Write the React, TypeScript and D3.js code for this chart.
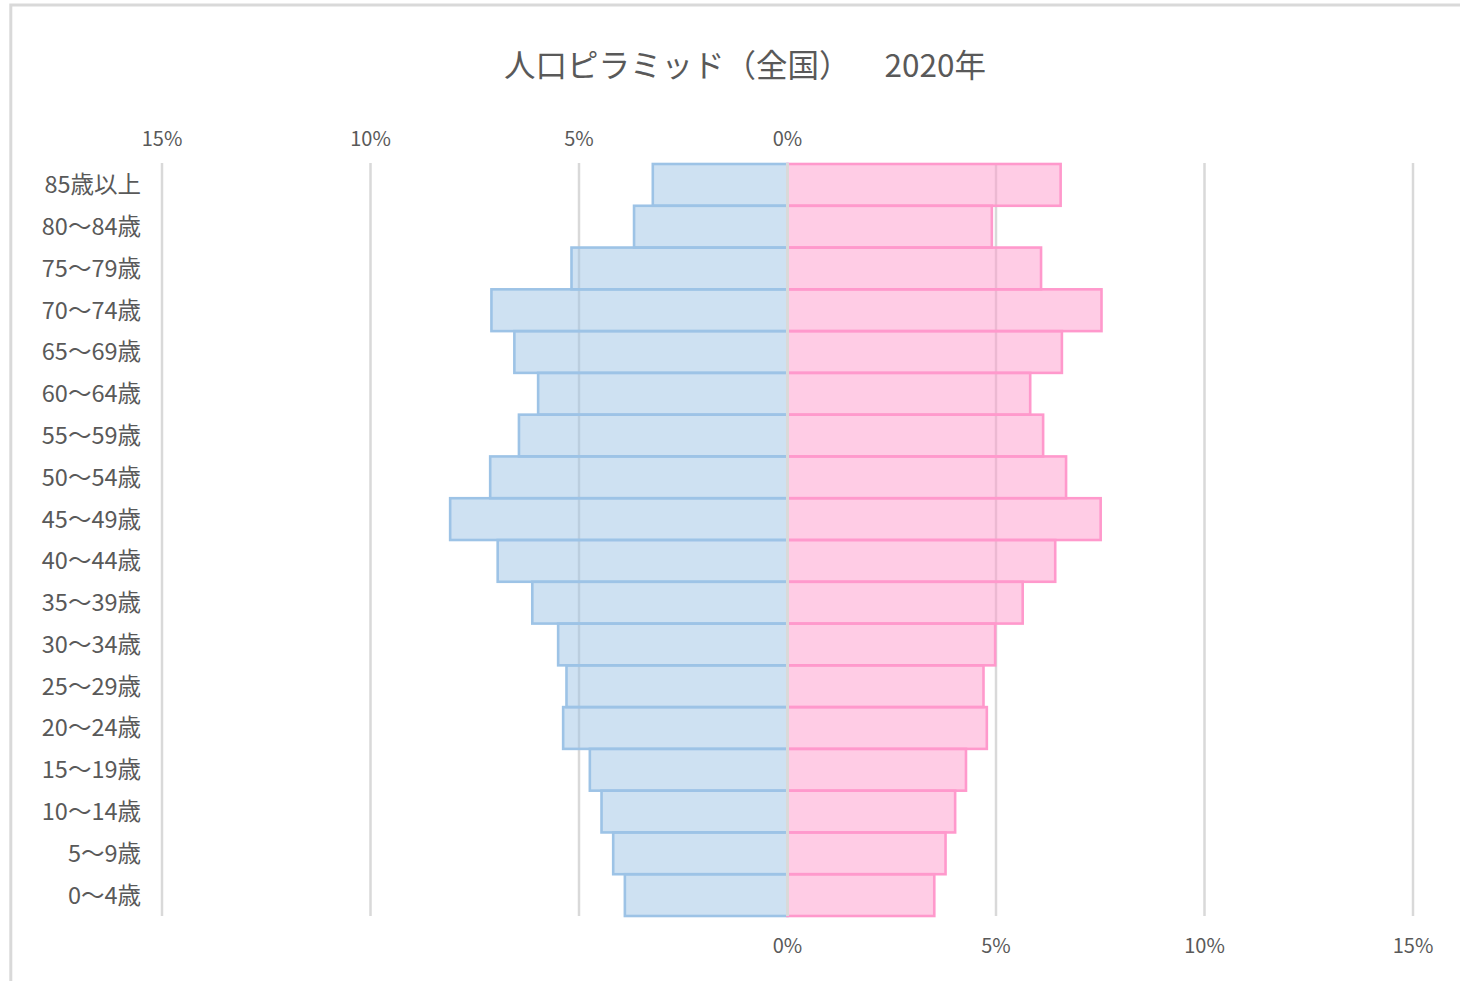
import React from 'react';
import * as d3 from 'd3';

// age groups, top to bottom as drawn
const ageGroups = [
  '85歳以上', '80～84歳', '75～79歳', '70～74歳', '65～69歳', '60～64歳',
  '55～59歳', '50～54歳', '45～49歳', '40～44歳', '35～39歳', '30～34歳',
  '25～29歳', '20～24歳', '15～19歳', '10～14歳', '5～9歳', '0～4歳',
];

// share of population (%) by sex
const maleShare = [
  3.23, 3.68, 5.18, 7.10, 6.55, 5.98, 6.44, 7.13, 8.09,
  6.95, 6.12, 5.50, 5.30, 5.38, 4.74, 4.46, 4.18, 3.90,
];
const femaleShare = [
  6.55, 4.90, 6.08, 7.53, 6.58, 5.82, 6.13, 6.68, 7.51,
  6.42, 5.64, 4.98, 4.70, 4.78, 4.28, 4.02, 3.79, 3.52,
];

const gridTicks = [0, 5, 10, 15];

const TITLE_MAIN = '人口ピラミッド（全国）';
const TITLE_YEAR = '2020年';

const W = 1460;
const H = 981;
const FONT = "'Noto Sans CJK JP', 'Noto Sans', sans-serif";
const TEXT = '#595959';
const GRID = '#d9d9d9';
const MALE = '#9dc3e6';
const FEMALE = '#ff99cc';

export default function App() {
  const plotTop = 164;
  const plotBottom = 916;

  // negative = male side, positive = female side
  const x = d3.scaleLinear().domain([-15, 15]).range([162, 1413]);
  const y = d3.scaleBand<string>().domain(ageGroups).range([plotTop, plotBottom]).padding(0);
  const bh = y.bandwidth();

  return (
    <svg
      width={W}
      height={H}
      style={{ position: 'absolute', left: 0, top: 0, background: '#fff' }}
      fontFamily={FONT}
    >
      {/* outer frame */}
      <rect x={10.8} y={5} width={W + 20} height={H + 20} fill="none" stroke={GRID} strokeWidth={3} />

      {/* title */}
      <text x={504} y={77} fontSize={31.5} fill={TEXT}>{TITLE_MAIN}</text>
      <text x={986} y={77} fontSize={31.5} fill={TEXT} textAnchor="end">{TITLE_YEAR}</text>

      {/* gridlines (both halves) */}
      {gridTicks.filter((t) => t > 0).map((t) => (
        <g key={t}>
          <line x1={x(-t)} x2={x(-t)} y1={plotTop - 1} y2={plotBottom} stroke={GRID} strokeWidth={2.5} />
          <line x1={x(t)} x2={x(t)} y1={plotTop - 1} y2={plotBottom} stroke={GRID} strokeWidth={2.5} />
        </g>
      ))}

      {/* male bars */}
      {ageGroups.map((a, i) => (
        <rect
          key={'m' + a}
          x={x(-maleShare[i])}
          y={y(a)}
          width={x(0) - x(-maleShare[i])}
          height={bh}
          fill={MALE}
          fillOpacity={0.5}
          stroke={MALE}
          strokeWidth={2.6}
        />
      ))}

      {/* female bars */}
      {ageGroups.map((a, i) => (
        <rect
          key={'f' + a}
          x={x(0)}
          y={y(a)}
          width={x(femaleShare[i]) - x(0)}
          height={bh}
          fill={FEMALE}
          fillOpacity={0.5}
          stroke={FEMALE}
          strokeWidth={2.6}
        />
      ))}

      {/* center axis */}
      <line x1={x(0)} x2={x(0)} y1={plotTop - 1} y2={plotBottom} stroke={GRID} strokeWidth={3} />

      {/* category labels */}
      {ageGroups.map((a) => (
        <text
          key={'l' + a}
          x={141}
          y={(y(a) ?? 0) + bh / 2}
          dy="0.36em"
          textAnchor="end"
          fontSize={23.5}
          fill={TEXT}
        >
          {a}
        </text>
      ))}

      {/* top tick labels: male side */}
      {gridTicks.map((t) => (
        <text key={'tt' + t} x={x(-t)} y={146} textAnchor="middle" fontSize={20} fill={TEXT}>
          {t}%
        </text>
      ))}

      {/* bottom tick labels: female side */}
      {gridTicks.map((t) => (
        <text key={'bt' + t} x={x(t)} y={953} textAnchor="middle" fontSize={20} fill={TEXT}>
          {t}%
        </text>
      ))}
    </svg>
  );
}
